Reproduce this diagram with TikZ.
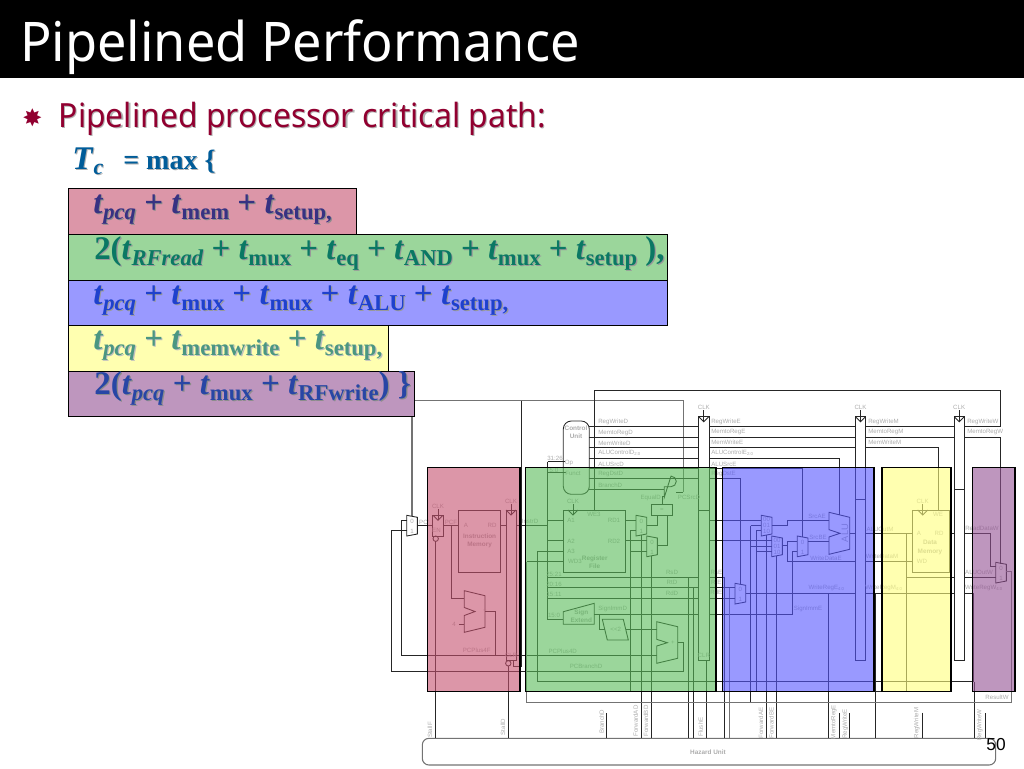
\documentclass[tikz,border=0pt]{standalone}
\usepackage{fontspec}
\setmainfont{Noto Sans}
\newfontfamily\timesf{Liberation Serif}
\newfontfamily\arialf{Liberation Sans}
\newfontfamily\symf{DejaVu Sans}
\usetikzlibrary{positioning}
\definecolor{pinkbox}{RGB}{197,80,110}
\definecolor{greenbox}{RGB}{88,187,88}
\definecolor{bluebox}{RGB}{85,85,255}
\definecolor{yellowbox}{RGB}{255,255,123}
\definecolor{purplebox}{RGB}{147,80,147}
\definecolor{siggray}{RGB}{172,172,172}
\definecolor{bulletred}{RGB}{145,0,48}
\tikzset{
  wire/.style={draw=black!85,line width=0.65pt},
  greywire/.style={draw=black!55,line width=0.8pt},
  box/.style={draw=black!85,line width=0.75pt},
  sig/.style={text=siggray,font=\arialf\fontsize{4.6}{5.5}\selectfont,inner sep=0pt,anchor=west},
  mid/.style={text=siggray,font=\arialf\fontsize{4.6}{5.5}\selectfont,inner sep=0pt,align=center},
  bold/.style={text=siggray,font=\arialf\bfseries\fontsize{4.8}{6.2}\selectfont,inner sep=0pt,align=center},
  vert/.style={text=siggray,font=\arialf\fontsize{4.6}{5.5}\selectfont,inner sep=0pt,rotate=90},
  stage/.style={line width=0.8pt,draw=black,fill opacity=0.6},
  row/.style={line width=0.7pt,draw=black},
  line/.style={anchor=base west,inner sep=0pt,font=\timesf\bfseries\fontsize{24.8}{28}\selectfont},
}
\newcommand{\shd}[2]{\rlap{\kern0.9pt\raisebox{-0.9pt}{\color{#1}#2}}#2}
\newcommand{\tsub}[1]{\raisebox{-5pt}{\fontsize{17}{18}\selectfont #1}}
\newcommand{\tv}[1]{\textit{t}\tsub{#1}}
\newcommand{\tvi}[1]{\textit{t}\tsub{\textit{#1}}}
\begin{document}
\begin{tikzpicture}[x=0.75pt,y=-0.75pt]
\useasboundingbox (0,0) rectangle (1024,768);
% hazard unit
\draw [greywire,rounded corners=5pt] (422.3,738.3) rectangle (995.7,765);
\node [bold] (hazard) at (708,752) {Hazard Unit};
% fetch
\draw [box] (432.3,515.3) rectangle (443.3,536);
\draw [wire] (435.7,538.7) circle [radius=2.7];
\draw [box] (458.7,510) rectangle (500.7,572.3);
\draw [box] (506,510) rectangle (516,660);
\draw [wire] (508.3,663.3) circle [radius=2.7];
\draw [wire] (417.7,525.5) -- (432.3,525.5);
\draw [wire] (443.3,525.5) -- (458.7,525.5);
\draw [wire] (500.7,525.5) -- (506,525.5);
\draw [wire] (516,525.5) -- (547.7,525.5);
\draw [wire] (435.5,541.4) -- (435.5,738.3); % stall
\draw [wire] (508.3,666) -- (508.3,738.3);
\draw [wire] (464.3,590.7) -- (485,595.7) -- (485,627.3) -- (464.3,632.3) -- (464.3,615.5) -- (475,611.5) -- (464.3,607.5) -- cycle;
\draw [wire] (451.3,525.5) -- (451.3,598.3) -- (464.3,598.3);
\draw [wire] (459,624) -- (464.3,624);
\draw [wire] (485,611.3) -- (495.7,611.3) -- (495.7,655.7);
\draw [wire] (406.7,520) -- (401.7,520) -- (401.7,655.7) -- (656.7,655.7);
\draw [wire] (406.7,530.5) -- (391.7,530.5) -- (391.7,671.7) -- (683.3,671.7) -- (683.3,642.3) -- (677.7,642.3);
\draw [greywire] (683.3,491.7) -- (683.3,400.7) -- (412,400.7) -- (412,516.3);
\draw [wire] (521.7,400.7) -- (521.7,666) -- (513.3,666) -- (513.3,660);
% decode
\draw [wire,rounded corners=6pt] (563.3,421) rectangle (589.3,494.3);
\draw [box] (563.3,510) rectangle (625.7,572.3);
\draw [box] (698.3,416.7) rectangle (709.3,660.7);
\draw [wire] (698.3,510) -- (709.3,510);
\draw [wire] (594.3,510) -- (594.3,390) -- (1000.7,390) -- (1000.7,426.7) -- (964.3,426.7);
\foreach \yy in {426.7,437,447.3,458,468.3,478.7} \draw [wire] (589.3,\yy) -- (698.3,\yy);
\draw [wire] (589.3,489) -- (664.3,489);
\draw [wire] (547.7,461.7) -- (547.7,619.3) -- (563.3,619.3);
\draw [wire] (547.7,461.7) -- (565,461.7);
\draw [wire] (547.7,472.7) -- (565.5,472.7);
\draw [wire] (547.7,520) -- (563.3,520);
\draw [wire] (547.7,540.7) -- (563.3,540.7);
\draw [wire] (537.3,551.7) -- (563.3,551.7);
\draw [wire] (526.7,561.7) -- (563.3,561.7);
\foreach \yy in {577.3,587.3,598.3} \draw [wire] (547.7,\yy) -- (698.3,\yy);
\draw [wire] (563.3,611.7) -- (594.3,603.3) -- (594.3,624.3) -- (563.3,624.3) -- cycle;
\draw [wire] (594.3,614) -- (698.3,614);
\draw [wire] (599.3,614) -- (599.3,629.3) -- (604.8,629.3);
\draw [wire] (602.3,619.3) -- (623.3,619.3) -- (628.3,640) -- (607.3,640) -- cycle;
\draw [wire] (625.8,629.3) -- (656.7,629.3);
\draw [wire] (656.7,621.7) -- (677.7,626.7) -- (677.7,658.3) -- (656.7,663.3) -- (656.7,646) -- (667.3,642.7) -- (656.7,639.3) -- cycle;
\foreach \xx/\yy in {406.7/515.3,636/515.3,646.7/536,761.3/515.3,771.7/536,797.3/536,735/583.3,995.7/562.3}
  \draw [wire] (\xx,\yy) -- ++(10.7,2) -- ++(0,16.7) -- ++(-10.7,2) -- cycle;
\draw [wire] (625.7,520) -- (636,520);
\draw [wire] (625.7,540.7) -- (646.7,540.7);
\draw [wire] (636,530.7) -- (630.7,530.7) -- (630.7,691.7) -- (906.7,691.7) -- (906.7,533.3);
\draw [wire] (630.7,551.7) -- (646.7,551.7);
\draw [wire] (641.7,535) -- (641.7,738.3);
\draw [wire] (651.7,555.7) -- (651.7,738.3);
\draw [box] (651.7,504.7) rectangle (672.7,515);
\draw [wire] (646.7,525.7) -- (657,525.7) -- (657,515);
\draw [wire] (657.4,545.7) -- (667.7,545.7) -- (667.7,515);
\draw [wire] (662,504.7) -- (662,496.7) -- (664.3,496.7);
\draw [wire] (664.3,486.7) -- (671,486.7) arc [start angle=90,end angle=-90,radius=5.3] -- (664.3,497.3) -- cycle;
\draw [wire] (676.3,492) -- (683.3,492);
\draw [wire] (688.3,577.3) -- (688.3,738.3);
\draw [wire] (693.7,587.3) -- (693.7,738.3);
\draw [wire] (706.3,660.7) -- (706.3,738.3);
\draw [wire] (606,713) -- (606,738.3);
% execute
\draw [box] (855.3,416.7) rectangle (865.7,660.7);
\draw [wire] (855.3,499.3) -- (865.7,499.3);
\foreach \yy in {426.7,437,447.3} \draw [wire] (709.3,\yy) -- (855.3,\yy);
\draw [wire] (709.3,458) -- (839.7,458) -- (839.7,515);
\draw [wire] (709.3,468.3) -- (802.7,468.3) -- (802.7,537);
\draw [wire] (709.3,478.7) -- (740,478.7) -- (740,584.2);
\draw [wire] (709.3,520) -- (761.3,520);
\draw [wire] (709.3,540.7) -- (771.7,540.7);
\draw [wire] (829,512.3) -- (849.7,517.3) -- (849.7,549.3) -- (829,554.3) -- (829,537) -- (840,533.3) -- (829,529.7) -- cycle;
\draw [wire] (771.7,525.7) -- (787.3,525.7) -- (787.3,520) -- (829,520);
\draw [wire] (782,545.7) -- (787.3,545.7);
\draw [wire] (797.3,541.7) -- (787.3,541.7) -- (787.3,561.7) -- (855.3,561.7);
\draw [wire] (797.3,551.7) -- (792.3,551.7) -- (792.3,614) -- (709.3,614);
\draw [wire] (808,541.7) -- (829,541.7);
\draw [wire] (849.7,533.3) -- (855.3,533.3);
\draw [wire] (750.7,525.7) -- (761.3,525.7);
\draw [wire] (756,530.7) -- (761.3,530.7);
\draw [wire] (750.7,546.7) -- (771.7,546.7);
\draw [wire] (756,551.7) -- (771.7,551.7);
\draw [wire] (750.7,525.7) -- (750.7,702.3);
\draw [wire] (756,530.7) -- (756,691.7);
\draw [wire] (766.7,534.5) -- (766.7,738.3);
\draw [wire] (776.7,555.5) -- (776.7,738.3);
\draw [wire] (709.3,577.3) -- (724,577.3) -- (724,738.3);
\draw [wire] (709.3,587.7) -- (735,587.7);
\draw [greywire] (729.7,587.7) -- (729.7,738.3);
\draw [wire] (709.3,598.3) -- (735,598.3);
\draw [wire] (745.7,593.3) -- (855.3,593.3);
\draw [wire] (828.7,593.3) -- (828.7,738.3);
\draw [wire] (839.3,713) -- (839.3,738.3);
\draw [wire] (849.3,713) -- (849.3,738.3);
% memory
\draw [box] (954,416.7) rectangle (964.3,660.7);
\draw [wire] (954,489) -- (964.3,489);
\draw [box] (912.3,510) rectangle (949,572.3);
\draw [wire] (865.7,426.7) -- (954,426.7);
\draw [wire] (865.7,437) -- (954,437);
\draw [wire] (865.7,447.3) -- (938.3,447.3) -- (938.3,510);
\draw [wire] (865.7,533.3) -- (912.3,533.3);
\draw [wire] (865.7,561.7) -- (912.3,561.7);
\draw [wire] (906.7,577.3) -- (954,577.3);
\draw [wire] (865.7,593.3) -- (954,593.3);
\draw [wire] (875.7,593.3) -- (875.7,738.3);
\draw [wire] (922.3,712.7) -- (922.3,738.3);
\draw [wire] (949,533.3) -- (954,533.3);
% writeback
\draw [wire] (964.3,437) -- (1000.7,437) -- (1000.7,563.5);
\draw [wire] (964.3,533.3) -- (990.7,533.3) -- (990.7,566.7) -- (995.7,566.7);
\draw [wire] (964.3,577.3) -- (995.7,577.3);
\draw [wire] (964.3,593.3) -- (973.3,593.3) -- (973.3,681.7) -- (537.3,681.7) -- (537.3,551.7);
\draw [wire] (974.7,681.7) -- (974.7,738.3);
\draw [wire] (985,713) -- (985,738.3);
\draw [greywire] (1006.4,571.7) -- (1011.3,571.7) -- (1011.3,702.3) -- (526.7,702.3) -- (526.7,561.7);
% clocks
\foreach \nm/\xx/\yy/\ty in {cka/438/515.3/506,ckb/511/510/501,ckc/573/510/501,ckd/703.8/416.7/407,cke/860.5/416.7/407,ckf/922.7/510/501,ckg/959.2/416.7/407} {
  \draw [wire] (\xx-5,\yy) -- (\xx,\yy+5) -- (\xx+5,\yy);
  \draw [wire] (\xx,\yy+5) -- (\xx,\ty+3);
  \node [mid] (\nm) at (\xx,\ty) {CLK};
}
% labels of the control lines
\foreach \nm/\yy/\txt in {rwd/422/RegWriteD,mrd/432.7/MemtoRegD,mwd/443/MemWriteD,acd/453/ALUControlD\textsubscript{2:0},asd/464/ALUSrcD,rdd/474.5/RegDstD,bd/485/BranchD}
  \node [sig] (\nm) at (598,\yy) {\txt};
\foreach \nm/\yy/\txt in {rwe/421.5/RegWriteE,mre/432/MemtoRegE,mwe/442/MemWriteE,ace/453/ALUControlE\textsubscript{2:0},ase/464/ALUSrcE,rde/474.5/RegDstE}
  \node [sig] (\nm) at (711,\yy) {\txt};
\foreach \nm/\yy/\txt in {rwm/421.5/RegWriteM,mrm/432/MemtoRegM,mwm/442/MemWriteM}
  \node [sig] (\nm) at (868,\yy) {\txt};
\foreach \nm/\yy/\txt in {rww/421.5/RegWriteW,mrw/432/MemtoRegW}
  \node [sig] (\nm) at (967,\yy) {\txt};
\node [bold] (ctrl) at (576,432.5) {Control\\Unit};
\foreach \nm/\xx/\yy/\txt in {
  opl/569/463/Op,fn/573/473/Funct,bits/555/458/31:26,bitf/554/470/5:0,
  pcn/424/522/PC',pcf/451/522/PCF,ia/466/525/A,ird/492/525/RD,
  instr/530/521/InstrD,wea/594/514/WE3,aone/571/520/A1,atwo/571/541/A2,athr/571/551/A3,wdt/575/561.5/WD3,
  rdo/614/520/RD1,rdt/614/541/RD2,eqd/650.7/497.7/EqualD,pcs/689/497/PCSrcD,eq/662/510/=,
  bra/554/574/25:21,brb/554/584/20:16,brc/554/594/15:11,brd/554/615/15:0,
  rsd/672/572.3/RsD,rtd/672/582.3/RtD,rdn/672/593.3/RdD,
  rse/716.3/572.3/RsE,rte/716.3/582/RtE,rdk/716.3/592.7/RdE,
  four/454/624/4,pl/485/611/+,plb/673/642.5/+,pcpf/476.7/650/PCPlus4F,pcpd/562.7/651/PCPlus4D,pcbd/586/666/PCBranchD,
  shi/615.7/629.7/<<2,simd/612.7/608.7/SignImmD,sime/808/608.7/SignImmE,
  srca/817/516/SrcAE,srcb/818/537/SrcBE,wdae/826/558/WriteDataE,wre/826.7/588/WriteRegE\textsubscript{4:0},
  alum/880/529/ALUOutM,wdm/882/556.5/WriteDataM,wrm/884/588/WriteRegM\textsubscript{4:0},
  ca/919/533/A,crd/939/533/RD,cwd/922/561.7/WD,cwe/938/514/WE,
  rdw/982/528/ReadDataW,aluw/979/572/ALUOutW,wrw/984/588/WriteRegW\textsubscript{4:0},resw/997/697/ResultW,
  ena/436.5/530/EN,clra/511/655/CLR,clrb/703.8/655/CLR}
  \node [mid] (\nm) at (\xx,\yy) {\txt};
\foreach \nm/\xx/\yy/\txt in {ma/412/521/0,mb/412/531/1,mc/641.3/521/0,md/641.3/531/1,me/652/542/0,mf/652/552/1,mg/802.6/542/0,mh/802.6/552/1,mi/740.3/589/0,mj/740.3/599/1,mk/1001/568/0,ml/1001/578/1,
  ea/766.6/519.5/00,eb/766.6/525.5/01,ec/766.6/531.5/10,ed/777/540.5/00,ef/777/546.5/01,eg/777/552.5/10}
  \node [mid] (\nm) at (\xx,\yy) {\txt};
\node [bold] (imem) at (479.6,541) {Instruction\\Memory};
\node [bold] (rfile) at (594.7,562) {Register\\File};
\node [bold] (dmem) at (930,547.5) {Data\\Memory};
\node [bold] (sext) at (581.3,616.5) {Sign\\Extend};
\node [mid,rotate=90,font=\arialf\fontsize{7}{8}\selectfont] (alu) at (845,533) {ALU};
\foreach \nm/\xx/\yy/\txt in {sf/430/730/StallF,sd/503/727/StallD,bdv/601.7/722/BranchD,fad/635.7/721/ForwardAD,fbd/646/721/ForwardBD,fe/700.7/727/FlushE,
  fae/761/723/ForwardAE,fbe/771.3/723/ForwardBE,mtr/834/722/MemtoRegE,rwv/845.3/724/RegWriteE,rwmv/916.7/723/RegWriteM,rwwv/979.7/725/RegWriteW}
  \node [vert] (\nm) at (\xx,\yy) {\txt};
% stages of the critical path
\draw [stage,fill=pinkbox] (427.3,467.3) rectangle (520,691.7);
\draw [stage,fill=greenbox] (525.7,467.3) rectangle (716,691.7);
\draw [stage,fill=bluebox] (722.3,467.3) rectangle (874,691.7);
\draw [stage,fill=yellowbox] (882,467.3) rectangle (951,691.7);
\draw [stage,fill=purplebox] (972.7,467.3) rectangle (1015,691.7);
% title and text
\fill [black] (0,0) rectangle (1024,78);
\node [anchor=base west,inner sep=0pt,text=white,font=\fontsize{41}{46}\selectfont] (title) at (20,61) {\scalebox{0.955}[1]{Pipelined Performance}};
\node [anchor=base west,inner sep=0pt,text=bulletred,font=\symf\fontsize{18}{22}\selectfont] (star) at (22,126) {✸};
\node [anchor=base west,inner sep=0pt,text=bulletred,font=\fontsize{25}{30}\selectfont] (head) at (58.5,127) {\scalebox{0.958}[1]{\shd{black!30}{Pipelined processor critical path:}}};
\node [line,text=blue!40!cyan!60!black] (tc) at (72,169) {\shd{black!30}{\textit{T}\raisebox{-4pt}{\fontsize{16.5}{18}\selectfont\textit{c}}}};
\node [line,text=blue!40!cyan!60!black,font=\timesf\bfseries\fontsize{21}{24}\selectfont] (mx) at (123,169) {\shd{black!30}{= max \{}};
\draw [row,fill={rgb,255:red,220;green,150;blue,168}] (68,188) rectangle (356,234);
\draw [row,fill={rgb,255:red,155;green,214;blue,155}] (68,234) rectangle (667,280);
\draw [row,fill={rgb,255:red,153;green,153;blue,255}] (68,280) rectangle (667,325);
\draw [row,fill={rgb,255:red,255;green,255;blue,176}] (68,325) rectangle (388,371);
\draw [row,fill={rgb,255:red,190;green,150;blue,190}] (68,371) rectangle (414,416);
\node [line,text={rgb,255:red,55;green,50;blue,130}] (lmem) at (93,213) {\shd{black!45}{\tvi{pcq} + \tv{mem} + \tv{setup,}}};
\node [line,text={rgb,255:red,10;green,120;blue,100}] (lread) at (94,259) {\scalebox{0.995}[1]{\shd{black!40}{2(\tvi{RFread} + \tv{mux} + \tv{eq} + \tv{AND} + \tv{mux} + \tv{setup} ),}}};
\node [line,text={rgb,255:red,30;green,65;blue,205}] (lalu) at (93,304) {\shd{black!40}{\tvi{pcq} + \tv{mux} + \tv{mux} + \tv{ALU} + \tv{setup,}}};
\node [line,text={rgb,255:red,75;green,150;blue,130}] (lwrite) at (93,349) {\shd{black!25}{\tvi{pcq} + \tv{memwrite} + \tv{setup,}}};
\node [line,text={rgb,255:red,40;green,70;blue,165}] (lrf) at (94,394) {\shd{black!45}{2(\tvi{pcq} + \tv{mux} + \tv{RFwrite}) \}}};
\node [anchor=base,inner sep=0pt,font=\arialf\fontsize{13}{15}\selectfont] (page) at (996,750) {50};
\end{tikzpicture}
\end{document}
